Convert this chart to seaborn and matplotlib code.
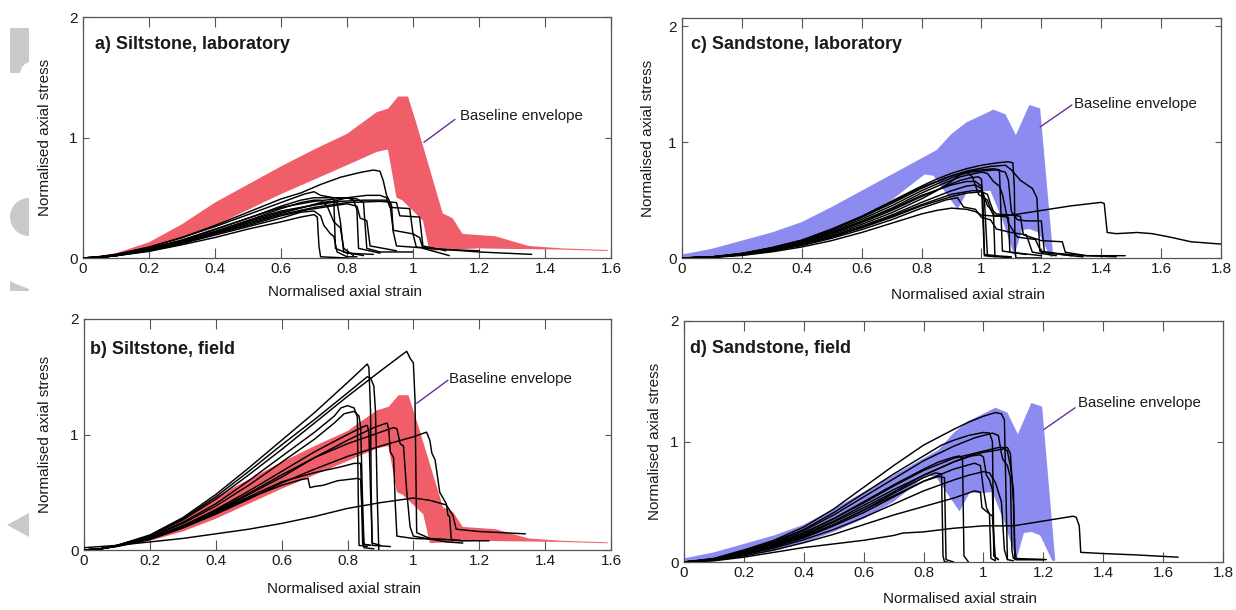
import numpy as np
import pandas as pd
import matplotlib
matplotlib.use("Agg")
import matplotlib.pyplot as plt
import seaborn as sns
from matplotlib import font_manager
from matplotlib.patches import Polygon, Wedge
from matplotlib.transforms import Affine2D

# ---------------------------------------------------------------- data
# Baseline envelopes: upper edge (left to right) and lower edge (right to left)
SILT_ENV_UPPER = [(0, 0), (0.1, 0.04), (0.2, 0.13), (0.3, 0.28), (0.4, 0.46), (0.5, 0.61),
                  (0.6, 0.76), (0.7, 0.9), (0.8, 1.03), (0.89, 1.21), (0.925, 1.24), (0.955, 1.34),
                  (0.985, 1.34), (1.01, 1.12), (1.04, 0.84), (1.09, 0.37), (1.12, 0.33),
                  (1.15, 0.2), (1.25, 0.18), (1.35, 0.1), (1.45, 0.08), (1.59, 0.066)]
SILT_ENV_LOWER = [(1.59, 0.058), (1.45, 0.07), (1.3, 0.075), (1.2, 0.08), (1.05, 0.06),
                  (1.03, 0.31), (0.967, 0.48), (0.95, 0.5), (0.924, 0.9), (0.89, 0.88),
                  (0.8, 0.77), (0.7, 0.65), (0.6, 0.53), (0.5, 0.4), (0.4, 0.27), (0.3, 0.16),
                  (0.2, 0.08), (0.1, 0.025), (0, 0)]

SAND_ENV_UPPER = [(0, 0.03), (0.1, 0.08), (0.2, 0.15), (0.3, 0.22), (0.4, 0.31), (0.5, 0.44),
                  (0.6, 0.58), (0.7, 0.72), (0.8, 0.86), (0.85, 0.93), (0.9, 1.07), (0.95, 1.17),
                  (1.0, 1.23), (1.04, 1.28), (1.08, 1.24), (1.115, 1.06), (1.16, 1.32),
                  (1.196, 1.29), (1.24, 0.01)]
SAND_ENV_LOWER = [(1.23, 0.01), (1.19, 0.22), (1.16, 0.25), (1.135, 0.24), (1.11, 0.02),
                  (1.07, 0.33), (1.03, 0.58), (0.985, 0.57), (0.955, 0.58), (0.92, 0.42),
                  (0.895, 0.51), (0.84, 0.71), (0.81, 0.72), (0.7, 0.5), (0.6, 0.36), (0.5, 0.25),
                  (0.4, 0.16), (0.3, 0.09), (0.2, 0.045), (0.1, 0.015), (0, 0)]

# a) Siltstone, laboratory: (normalised strain, normalised stress)
A1 = [(0, 0), (0.05, 0.01), (0.1, 0.03), (0.2, 0.09), (0.3, 0.17), (0.4, 0.27), (0.5, 0.38), (0.6, 0.49),
      (0.66, 0.54), (0.72, 0.61), (0.78, 0.67), (0.84, 0.71), (0.88, 0.73), (0.9, 0.72), (0.91, 0.64),
      (0.92, 0.52), (0.935, 0.44), (0.94, 0.22), (0.95, 0.1), (1.05, 0.08), (1.2, 0.05), (1.36, 0.03)]
A2 = [(0, 0), (0.05, 0.01), (0.1, 0.03), (0.2, 0.09), (0.3, 0.17), (0.4, 0.26), (0.5, 0.36), (0.6, 0.46),
      (0.67, 0.53), (0.7, 0.55), (0.72, 0.52), (0.76, 0.5), (0.8, 0.5), (0.82, 0.48), (0.83, 0.4),
      (0.835, 0.08), (0.9, 0.04)]
A3 = [(0, 0), (0.05, 0.01), (0.1, 0.025), (0.2, 0.08), (0.3, 0.15), (0.4, 0.24), (0.5, 0.33), (0.6, 0.42),
      (0.7, 0.47), (0.8, 0.5), (0.86, 0.52), (0.9, 0.52), (0.92, 0.5), (0.93, 0.42), (0.99, 0.41),
      (1.0, 0.2), (1.02, 0.17), (1.03, 0.08), (1.11, 0.02)]
A4 = [(0, 0), (0.05, 0.005), (0.1, 0.02), (0.2, 0.07), (0.3, 0.14), (0.4, 0.22), (0.5, 0.31), (0.6, 0.39),
      (0.7, 0.44), (0.78, 0.47), (0.85, 0.48), (0.92, 0.48), (0.93, 0.45), (0.94, 0.23), (1.0, 0.2),
      (1.01, 0.09), (1.1, 0.07), (1.2, 0.06)]
A5 = [(0, 0), (0.05, 0.005), (0.1, 0.02), (0.2, 0.07), (0.3, 0.13), (0.4, 0.21), (0.5, 0.29), (0.6, 0.37),
      (0.68, 0.43), (0.72, 0.46), (0.75, 0.47), (0.77, 0.46), (0.78, 0.3), (0.79, 0.05), (0.85, 0.02)]
A6 = [(0, 0), (0.05, 0.005), (0.1, 0.02), (0.2, 0.065), (0.3, 0.125), (0.4, 0.2), (0.5, 0.27), (0.6, 0.35),
      (0.68, 0.4), (0.75, 0.43), (0.8, 0.45), (0.83, 0.43), (0.84, 0.33), (0.86, 0.31), (0.87, 0.1),
      (0.95, 0.06)]
A7 = [(0, 0), (0.05, 0.005), (0.1, 0.02), (0.2, 0.06), (0.3, 0.12), (0.4, 0.19), (0.5, 0.26), (0.6, 0.33),
      (0.66, 0.38), (0.7, 0.39), (0.72, 0.35), (0.73, 0.27), (0.75, 0.2), (0.76, 0.18), (0.77, 0.05),
      (0.8, 0.01), (0.83, 0.01)]
A8 = [(0, 0), (0.05, 0.005), (0.1, 0.018), (0.2, 0.055), (0.3, 0.11), (0.4, 0.17), (0.5, 0.24), (0.6, 0.3),
      (0.66, 0.34), (0.7, 0.36), (0.71, 0.34), (0.715, 0.1), (0.72, 0.01), (0.8, 0.0)]
A9 = [(0, 0), (0.05, 0.01), (0.1, 0.025), (0.2, 0.075), (0.3, 0.145), (0.4, 0.235), (0.5, 0.33), (0.6, 0.43),
      (0.66, 0.48), (0.7, 0.5), (0.75, 0.5), (0.76, 0.48), (0.765, 0.08), (0.8, 0.04), (0.88, 0.03)]
A10 = [(0, 0), (0.05, 0.01), (0.1, 0.022), (0.2, 0.07), (0.3, 0.14), (0.4, 0.22), (0.5, 0.31), (0.6, 0.41),
       (0.66, 0.46), (0.7, 0.48), (0.72, 0.48), (0.74, 0.43), (0.76, 0.3), (0.78, 0.25), (0.79, 0.08),
       (0.82, 0.02)]
A11 = [(0, 0), (0.05, 0.005), (0.1, 0.02), (0.2, 0.065), (0.3, 0.13), (0.4, 0.21), (0.5, 0.3), (0.6, 0.38),
       (0.7, 0.44), (0.76, 0.47), (0.8, 0.5), (0.83, 0.49), (0.85, 0.46), (0.86, 0.08), (0.9, 0.05),
       (1.0, 0.05)]
A12 = [(0, 0), (0.05, 0.005), (0.1, 0.02), (0.2, 0.06), (0.3, 0.12), (0.4, 0.2), (0.5, 0.28), (0.6, 0.36),
       (0.7, 0.42), (0.8, 0.46), (0.9, 0.47), (0.95, 0.46), (0.96, 0.35), (1.02, 0.34), (1.03, 0.1),
       (1.1, 0.06)]

# b) Siltstone, field
B1 = [(0, 0), (0.05, 0.01), (0.1, 0.04), (0.2, 0.12), (0.3, 0.26), (0.4, 0.44), (0.5, 0.65), (0.6, 0.87),
      (0.7, 1.1), (0.8, 1.33), (0.9, 1.55), (0.97, 1.7), (0.98, 1.72), (0.99, 1.66), (1.0, 1.62),
      (1.005, 1.3), (1.008, 0.6), (1.01, 0.15), (1.05, 0.1), (1.15, 0.08)]
B2 = [(0, 0), (0.05, 0.01), (0.1, 0.04), (0.2, 0.13), (0.3, 0.28), (0.4, 0.48), (0.5, 0.71), (0.6, 0.95),
      (0.7, 1.19), (0.8, 1.45), (0.86, 1.61), (0.865, 1.58), (0.87, 1.2), (0.872, 0.5), (0.875, 0.04),
      (0.93, 0.03)]
B3 = [(0, 0), (0.05, 0.01), (0.1, 0.04), (0.2, 0.12), (0.3, 0.27), (0.4, 0.46), (0.5, 0.68), (0.6, 0.91),
      (0.7, 1.13), (0.8, 1.36), (0.86, 1.5), (0.87, 1.49), (0.88, 1.42), (0.885, 1.2), (0.89, 0.5),
      (0.895, 0.0)]
B4 = [(0, 0), (0.05, 0.01), (0.1, 0.035), (0.2, 0.11), (0.3, 0.24), (0.4, 0.4), (0.5, 0.6), (0.6, 0.81),
      (0.7, 1.02), (0.76, 1.16), (0.78, 1.23), (0.8, 1.25), (0.82, 1.23), (0.83, 1.15), (0.832, 0.6),
      (0.835, 0.04), (0.86, 0.03)]
B5 = [(0, 0), (0.05, 0.01), (0.1, 0.035), (0.2, 0.11), (0.3, 0.23), (0.4, 0.38), (0.5, 0.56), (0.6, 0.76),
      (0.7, 0.96), (0.76, 1.1), (0.79, 1.18), (0.82, 1.2), (0.835, 1.16), (0.84, 1.06), (0.845, 0.5),
      (0.85, 0.05), (0.87, 0.04)]
B6 = [(0, 0), (0.05, 0.01), (0.1, 0.035), (0.2, 0.1), (0.3, 0.2), (0.4, 0.33), (0.5, 0.48), (0.6, 0.63),
      (0.7, 0.8), (0.8, 0.95), (0.88, 1.06), (0.92, 1.1), (0.925, 1.05), (0.93, 0.85), (0.94, 0.8),
      (0.945, 0.4), (0.95, 0.12), (1.0, 0.1), (1.1, 0.09)]
B7 = [(0, 0), (0.05, 0.01), (0.1, 0.035), (0.2, 0.1), (0.3, 0.21), (0.4, 0.35), (0.5, 0.51), (0.6, 0.68),
      (0.7, 0.85), (0.8, 1.0), (0.85, 1.07), (0.86, 1.08), (0.865, 1.02), (0.87, 0.5), (0.875, 0.06),
      (0.9, 0.04)]
B8 = [(0, 0), (0.05, 0.01), (0.1, 0.03), (0.2, 0.09), (0.3, 0.19), (0.4, 0.31), (0.5, 0.44), (0.6, 0.58),
      (0.7, 0.7), (0.8, 0.81), (0.9, 0.9), (1.0, 0.98), (1.04, 1.02), (1.05, 0.95), (1.056, 0.84),
      (1.066, 0.78), (1.08, 0.5), (1.1, 0.4), (1.105, 0.3), (1.11, 0.29), (1.115, 0.09), (1.15, 0.08),
      (1.23, 0.08)]
B9 = [(0, 0), (0.05, 0.01), (0.1, 0.035), (0.2, 0.1), (0.3, 0.2), (0.4, 0.32), (0.5, 0.45), (0.6, 0.56),
      (0.66, 0.61), (0.68, 0.62), (0.686, 0.54), (0.7, 0.55), (0.726, 0.56), (0.77, 0.6), (0.83, 0.62),
      (0.84, 0.61), (0.845, 0.3), (0.85, 0.02), (0.88, 0.01)]
B10 = [(0, 0), (0.05, 0.01), (0.1, 0.035), (0.2, 0.1), (0.3, 0.2), (0.4, 0.33), (0.5, 0.46), (0.6, 0.59),
       (0.7, 0.67), (0.78, 0.72), (0.82, 0.75), (0.84, 0.75), (0.843, 0.4), (0.846, 0.05), (0.87, 0.04)]
B11 = [(0, 0.02), (0.1, 0.04), (0.2, 0.07), (0.3, 0.1), (0.4, 0.14), (0.5, 0.18), (0.6, 0.23), (0.7, 0.29),
       (0.8, 0.36), (0.9, 0.41), (0.95, 0.43), (1.0, 0.45), (1.05, 0.43), (1.1, 0.39), (1.12, 0.3),
       (1.13, 0.18), (1.2, 0.16), (1.34, 0.14)]
B12 = [(0, 0), (0.05, 0.01), (0.1, 0.035), (0.2, 0.1), (0.3, 0.21), (0.4, 0.34), (0.5, 0.49), (0.6, 0.65),
       (0.7, 0.8), (0.8, 0.92), (0.9, 1.02), (0.94, 1.06), (0.95, 1.05), (0.96, 0.92), (0.97, 0.9),
       (0.98, 0.5), (0.99, 0.2), (1.0, 0.12), (1.1, 0.07), (1.15, 0.06)]

# c) Sandstone, laboratory
C1 = [(0, 0), (0.1, 0.01), (0.2, 0.04), (0.3, 0.09), (0.4, 0.155), (0.5, 0.25), (0.6, 0.36), (0.7, 0.49),
      (0.8, 0.62), (0.85, 0.68), (0.9, 0.73), (0.95, 0.77), (1.0, 0.8), (1.05, 0.82), (1.09, 0.83),
      (1.105, 0.82), (1.11, 0.6), (1.112, 0.1), (1.115, 0.0), (1.2, 0.0)]
C2 = [(0, 0), (0.1, 0.01), (0.2, 0.038), (0.3, 0.087), (0.4, 0.15), (0.5, 0.24), (0.6, 0.35), (0.7, 0.47),
      (0.8, 0.6), (0.88, 0.69), (0.95, 0.75), (1.03, 0.79), (1.08, 0.8), (1.1, 0.76), (1.13, 0.67),
      (1.17, 0.6), (1.185, 0.52), (1.19, 0.3), (1.195, 0.06), (1.25, 0.04), (1.35, 0.02), (1.48, 0.02)]
C3 = [(0, 0), (0.1, 0.009), (0.2, 0.036), (0.3, 0.083), (0.4, 0.145), (0.5, 0.23), (0.6, 0.335), (0.7, 0.45),
      (0.8, 0.58), (0.87, 0.66), (0.92, 0.71), (0.96, 0.74), (1.0, 0.75), (1.05, 0.76), (1.08, 0.74),
      (1.09, 0.67), (1.1, 0.4), (1.12, 0.33), (1.15, 0.32), (1.2, 0.32), (1.21, 0.05), (1.3, 0.02)]
C4 = [(0, 0), (0.1, 0.009), (0.2, 0.035), (0.3, 0.08), (0.4, 0.14), (0.5, 0.22), (0.6, 0.32), (0.7, 0.43),
      (0.8, 0.56), (0.88, 0.65), (0.93, 0.7), (0.96, 0.72), (1.0, 0.74), (1.02, 0.73), (1.04, 0.66),
      (1.06, 0.62), (1.07, 0.55), (1.09, 0.3), (1.12, 0.18), (1.15, 0.17), (1.18, 0.16), (1.2, 0.05),
      (1.3, 0.02), (1.34, 0.01)]
C5 = [(0, 0), (0.1, 0.008), (0.2, 0.033), (0.3, 0.076), (0.4, 0.133), (0.5, 0.21), (0.6, 0.305), (0.7, 0.41),
      (0.8, 0.53), (0.9, 0.64), (0.93, 0.67), (0.96, 0.69), (0.99, 0.7), (1.0, 0.68), (1.005, 0.5),
      (1.01, 0.03), (1.05, 0.02)]
C6 = [(0, 0), (0.1, 0.008), (0.2, 0.032), (0.3, 0.073), (0.4, 0.128), (0.5, 0.2), (0.6, 0.29), (0.7, 0.39),
      (0.8, 0.51), (0.85, 0.58), (0.9, 0.66), (0.93, 0.72), (0.95, 0.74), (0.97, 0.7), (0.99, 0.55),
      (1.02, 0.5), (1.03, 0.42), (1.04, 0.37), (1.07, 0.36), (1.09, 0.35), (1.095, 0.05), (1.2, 0.02)]
C7 = [(0, 0), (0.1, 0.007), (0.2, 0.028), (0.3, 0.065), (0.4, 0.115), (0.5, 0.18), (0.6, 0.26), (0.7, 0.35),
      (0.8, 0.45), (0.9, 0.53), (0.95, 0.56), (1.0, 0.57), (1.02, 0.55), (1.03, 0.47), (1.04, 0.4),
      (1.045, 0.02), (1.1, 0.01)]
C8 = [(0, 0), (0.1, 0.007), (0.2, 0.03), (0.3, 0.069), (0.4, 0.122), (0.5, 0.19), (0.6, 0.275), (0.7, 0.37),
      (0.8, 0.48), (0.9, 0.58), (0.95, 0.62), (0.98, 0.63), (1.0, 0.6), (1.02, 0.45), (1.05, 0.38),
      (1.1, 0.37), (1.13, 0.36), (1.14, 0.2), (1.2, 0.15), (1.27, 0.14), (1.28, 0.05), (1.35, 0.02),
      (1.45, 0.01)]
C9 = [(0, 0), (0.1, 0.007), (0.2, 0.029), (0.3, 0.067), (0.4, 0.118), (0.5, 0.185), (0.6, 0.265), (0.7, 0.36),
      (0.8, 0.46), (0.9, 0.55), (0.97, 0.58), (1.0, 0.58), (1.01, 0.5), (1.02, 0.02), (1.1, 0.0)]
C10 = [(0, 0), (0.1, 0.006), (0.2, 0.026), (0.3, 0.06), (0.4, 0.107), (0.5, 0.17), (0.6, 0.245), (0.7, 0.33),
       (0.8, 0.43), (0.88, 0.5), (0.92, 0.52), (0.93, 0.48), (0.94, 0.44), (0.96, 0.43), (0.98, 0.42),
       (1.0, 0.35), (1.03, 0.33), (1.05, 0.25), (1.1, 0.22), (1.15, 0.2), (1.17, 0.05), (1.25, 0.02)]
C11 = [(0, 0), (0.1, 0.005), (0.2, 0.022), (0.3, 0.053), (0.4, 0.095), (0.5, 0.15), (0.6, 0.22), (0.7, 0.3),
       (0.8, 0.38), (0.85, 0.41), (0.9, 0.43), (0.95, 0.42), (0.98, 0.4), (1.0, 0.37), (1.05, 0.36),
       (1.1, 0.37), (1.2, 0.41), (1.3, 0.45), (1.4, 0.48), (1.41, 0.47), (1.42, 0.22), (1.45, 0.21),
       (1.52, 0.22), (1.57, 0.21), (1.63, 0.18), (1.7, 0.14), (1.8, 0.12)]
C12 = [(0, 0), (0.1, 0.008), (0.2, 0.034), (0.3, 0.078), (0.4, 0.137), (0.5, 0.215), (0.6, 0.31), (0.7, 0.42),
       (0.8, 0.54), (0.9, 0.63), (0.95, 0.66), (0.98, 0.66), (1.0, 0.62), (1.01, 0.02), (1.05, 0.01)]
C13 = [(0, 0), (0.1, 0.01), (0.2, 0.039), (0.3, 0.088), (0.4, 0.152), (0.5, 0.245), (0.6, 0.355), (0.7, 0.48),
       (0.8, 0.61), (0.9, 0.71), (0.96, 0.75), (1.0, 0.76), (1.04, 0.77), (1.06, 0.76), (1.065, 0.4),
       (1.07, 0.06), (1.15, 0.03)]

# d) Sandstone, field
D1 = [(0, 0), (0.1, 0.03), (0.2, 0.1), (0.3, 0.18), (0.4, 0.29), (0.5, 0.44), (0.6, 0.62), (0.7, 0.8),
      (0.8, 0.97), (0.9, 1.1), (0.95, 1.16), (1.0, 1.21), (1.04, 1.24), (1.06, 1.23), (1.07, 1.18),
      (1.075, 0.6), (1.08, 0.02), (1.1, 0.01)]
D2 = [(0, 0), (0.1, 0.025), (0.2, 0.09), (0.3, 0.17), (0.4, 0.27), (0.5, 0.41), (0.6, 0.57), (0.7, 0.73),
      (0.8, 0.88), (0.86, 0.97), (0.9, 1.01), (0.95, 1.05), (1.0, 1.075), (1.02, 1.07), (1.03, 1.0),
      (1.035, 0.05), (1.05, 0.02)]
D3 = [(0, 0), (0.1, 0.025), (0.2, 0.085), (0.3, 0.16), (0.4, 0.26), (0.5, 0.39), (0.6, 0.54), (0.7, 0.69),
      (0.8, 0.84), (0.9, 0.96), (0.97, 1.03), (1.03, 1.07), (1.05, 1.05), (1.06, 0.9), (1.065, 0.85),
      (1.08, 0.8), (1.09, 0.7), (1.095, 0.1), (1.1, 0.03), (1.2, 0.02)]
D4 = [(0, 0), (0.1, 0.02), (0.2, 0.075), (0.3, 0.14), (0.4, 0.23), (0.5, 0.34), (0.6, 0.47), (0.7, 0.6),
      (0.8, 0.72), (0.9, 0.83), (0.95, 0.88), (1.0, 0.91), (1.05, 0.93), (1.07, 0.94), (1.08, 0.92),
      (1.09, 0.8), (1.1, 0.6), (1.105, 0.1), (1.11, 0.02), (1.2, 0.02)]
D5 = [(0, 0), (0.1, 0.022), (0.2, 0.08), (0.3, 0.15), (0.4, 0.245), (0.5, 0.36), (0.6, 0.5), (0.7, 0.64),
      (0.8, 0.77), (0.85, 0.83), (0.9, 0.87), (0.92, 0.88), (0.93, 0.86), (0.935, 0.05), (0.95, 0.0)]
D6 = [(0, 0), (0.1, 0.02), (0.2, 0.072), (0.3, 0.135), (0.4, 0.22), (0.5, 0.33), (0.6, 0.45), (0.7, 0.58),
      (0.8, 0.72), (0.9, 0.83), (0.96, 0.88), (0.99, 0.89), (1.0, 0.87), (1.01, 0.72), (1.02, 0.68),
      (1.03, 0.6), (1.035, 0.05), (1.05, 0.02)]
D7 = [(0, 0), (0.1, 0.02), (0.2, 0.07), (0.3, 0.13), (0.4, 0.21), (0.5, 0.31), (0.6, 0.43), (0.7, 0.57),
      (0.8, 0.7), (0.84, 0.74), (0.86, 0.73), (0.865, 0.05), (0.87, 0.0), (0.88, 0.0)]
D8 = [(0, 0), (0.1, 0.018), (0.2, 0.065), (0.3, 0.125), (0.4, 0.2), (0.5, 0.3), (0.6, 0.41), (0.7, 0.54),
      (0.8, 0.67), (0.85, 0.71), (0.87, 0.7), (0.875, 0.02), (0.9, 0.0)]
D9 = [(0, 0), (0.1, 0.016), (0.2, 0.06), (0.3, 0.115), (0.4, 0.185), (0.5, 0.27), (0.6, 0.37), (0.7, 0.48),
      (0.8, 0.59), (0.9, 0.68), (0.95, 0.72), (1.0, 0.75), (1.02, 0.74), (1.04, 0.66), (1.05, 0.58),
      (1.06, 0.5), (1.07, 0.1), (1.08, 0.02)]
D10 = [(0, 0), (0.1, 0.014), (0.2, 0.05), (0.3, 0.1), (0.4, 0.16), (0.5, 0.23), (0.6, 0.31), (0.7, 0.39),
       (0.8, 0.46), (0.9, 0.53), (0.97, 0.59), (0.99, 0.58), (0.995, 0.45), (1.01, 0.42), (1.02, 0.4),
       (1.025, 0.03), (1.04, 0.01)]
D11 = [(0, 0), (0.1, 0.01), (0.2, 0.04), (0.3, 0.08), (0.4, 0.12), (0.5, 0.15), (0.6, 0.18), (0.7, 0.22),
       (0.73, 0.24), (0.8, 0.25), (0.9, 0.28), (1.0, 0.3), (1.1, 0.3), (1.2, 0.34), (1.3, 0.38),
       (1.31, 0.37), (1.32, 0.3), (1.325, 0.08), (1.4, 0.07), (1.5, 0.06), (1.65, 0.04)]
D12 = [(0, 0), (0.1, 0.018), (0.2, 0.068), (0.3, 0.13), (0.4, 0.21), (0.5, 0.31), (0.6, 0.43), (0.7, 0.55),
       (0.8, 0.67), (0.9, 0.77), (0.97, 0.82), (0.99, 0.8), (1.0, 0.6), (1.01, 0.45), (1.02, 0.4),
       (1.03, 0.38), (1.04, 0.02)]
D13 = [(0, 0), (0.1, 0.022), (0.2, 0.08), (0.3, 0.15), (0.4, 0.24), (0.5, 0.36), (0.6, 0.49), (0.7, 0.63),
       (0.8, 0.76), (0.9, 0.86), (1.0, 0.92), (1.05, 0.95), (1.08, 0.95), (1.09, 0.9), (1.1, 0.5),
       (1.105, 0.02), (1.15, 0.02), (1.21, 0.02)]

SILT_LAB = [A1, A2, A3, A4, A5, A6, A7, A8, A9, A10, A11, A12]
SILT_FIELD = [B1, B2, B3, B4, B5, B6, B7, B8, B9, B10, B11, B12]
SAND_LAB = [C1, C2, C3, C4, C5, C6, C7, C8, C9, C10, C11, C12, C13]
SAND_FIELD = [D1, D2, D3, D4, D5, D6, D7, D8, D9, D10, D11, D12, D13]

TITLES = ["a) Siltstone, laboratory", "b) Siltstone, field",
          "c) Sandstone, laboratory", "d) Sandstone, field"]
XLABEL = "Normalised axial strain"
YLABEL = "Normalised axial stress"
ENV_LABEL = "Baseline envelope"

RED = "#F05F69"
BLUE = "#8C8CF0"
PURPLE = "#6A2C9A"

# ---------------------------------------------------------------- style
sns.set_theme(style="white")


def pick_font(names):
    for n in names:
        try:
            font_manager.findfont(n, fallback_to_default=False)
            return n
        except Exception:
            continue
    return "DejaVu Sans"


FONT = pick_font(["Liberation Sans Narrow", "Liberation Sans", "Roboto"])
plt.rcParams["font.family"] = [FONT, "DejaVu Sans"]
TXT = "#1a1a1a"
SPINE = "#555555"
TICK_FS = 11
LABEL_FS = 11
TITLE_FS = 13
ANN_FS = 10.8

W, H = 1236, 610
fig = plt.figure(figsize=(W / 100, H / 100), dpi=100)
fig.patch.set_facecolor("white")


def axes_px(left, top, right, bottom):
    return fig.add_axes([left / W, 1 - bottom / H, (right - left) / W, (bottom - top) / H])


panels = [
    dict(ax=axes_px(83, 17, 611, 258), curves=SILT_LAB, env=(SILT_ENV_UPPER, SILT_ENV_LOWER), color=RED,
         xmax=1.6, ymax=2.0, title=TITLES[0], tpos=(0.022, 0.885),
         ann_text=(1.142, 1.18), ann_line=((1.127, 1.15), (1.033, 0.96)),
         ylab=(-0.072, 0.5), xlab=(0.497, -0.141)),
    dict(ax=axes_px(84, 319, 611, 550), curves=SILT_FIELD, env=(SILT_ENV_UPPER, SILT_ENV_LOWER), color=RED,
         xmax=1.6, ymax=2.0, title=TITLES[1], tpos=(0.012, 0.868),
         ann_text=(1.108, 1.48), ann_line=((1.105, 1.47), (1.01, 1.27)),
         ylab=(-0.074, 0.5), xlab=(0.493, -0.169)),
    dict(ax=axes_px(682, 18, 1221, 258), curves=SAND_LAB, env=(SAND_ENV_UPPER, SAND_ENV_LOWER), color=BLUE,
         xmax=1.8, ymax=2.07, title=TITLES[2], tpos=(0.017, 0.89),
         ann_text=(1.309, 1.33), ann_line=((1.302, 1.32), (1.196, 1.13)),
         ylab=(-0.063, 0.5), xlab=(0.53, -0.154)),
    dict(ax=axes_px(684, 321, 1223, 562), curves=SAND_FIELD, env=(SAND_ENV_UPPER, SAND_ENV_LOWER), color=BLUE,
         xmax=1.8, ymax=2.0, title=TITLES[3], tpos=(0.011, 0.885),
         ann_text=(1.316, 1.32), ann_line=((1.306, 1.28), (1.202, 1.1)),
         ylab=(-0.054, 0.5), xlab=(0.512, -0.155)),
]

for p in panels:
    ax = p["ax"]
    upper, lower = p["env"]
    env = upper + lower
    ax.fill([q[0] for q in env], [q[1] for q in env], color=p["color"], lw=0, zorder=1)

    rows = []
    for i, curve in enumerate(p["curves"]):
        for s, t in curve:
            rows.append({"curve": i, "strain": s, "stress": t})
    df = pd.DataFrame(rows)
    sns.lineplot(data=df, x="strain", y="stress", units="curve", estimator=None, sort=False,
                 color="black", lw=1.05, ax=ax, legend=False, zorder=3)

    ax.set_xlim(0, p["xmax"])
    ax.set_ylim(0, p["ymax"])
    xt = np.round(np.arange(0, p["xmax"] + 1e-6, 0.2), 1)
    ax.set_xticks(xt)
    ax.set_xticklabels([f"{v:g}" for v in xt])
    ax.set_yticks([0, 1, 2])
    ax.set_yticklabels(["0", "1", "2"])
    ax.tick_params(axis="x", direction="in", top=True, bottom=True, length=7, width=0.8,
                   color=SPINE, labelsize=TICK_FS, labelcolor=TXT, pad=3)
    ax.tick_params(axis="y", direction="in", left=True, right=True, length=4, width=0.8,
                   color=SPINE, labelsize=TICK_FS, labelcolor=TXT, pad=4)
    for sp in ax.spines.values():
        sp.set_color(SPINE)
        sp.set_linewidth(0.9)
    ax.set_xlabel(XLABEL, fontsize=LABEL_FS, color=TXT, va="center")
    ax.set_ylabel(YLABEL, fontsize=LABEL_FS, color=TXT, va="center")
    ax.xaxis.set_label_coords(*p["xlab"])
    ax.yaxis.set_label_coords(*p["ylab"])
    ax.text(p["tpos"][0], p["tpos"][1], p["title"], transform=ax.transAxes, fontsize=TITLE_FS,
            fontweight="bold", color=TXT, ha="left", va="center")
    (x0, y0), (x1, y1) = p["ann_line"]
    ax.plot([x0, x1], [y0, y1], color=PURPLE, lw=1.0, zorder=4)
    ax.text(p["ann_text"][0], p["ann_text"][1], ENV_LABEL, fontsize=ANN_FS, color=TXT,
            ha="left", va="center", zorder=4)

# light grey page fragments along the left margin (pixel coordinates, origin top-left)
px = Affine2D().scale(1, -1).translate(0, H)
grey = "#C9C9C9"
fig.add_artist(Polygon([(10, 28), (29, 28), (29, 62), (25, 64), (22, 67), (20, 73), (10, 73)],
                       closed=True, facecolor=grey, edgecolor="none", transform=px))
fig.add_artist(Wedge((29, 217), 19, 90, 270, facecolor=grey, edgecolor="none", transform=px))
fig.add_artist(Polygon([(10, 281), (16, 284), (29, 289), (29, 291), (10, 291)],
                       closed=True, facecolor=grey, edgecolor="none", transform=px))
fig.add_artist(Polygon([(7, 525), (29, 513), (29, 537)],
                       closed=True, facecolor=grey, edgecolor="none", transform=px))

fig.savefig("out.png", dpi=100, facecolor="white")
